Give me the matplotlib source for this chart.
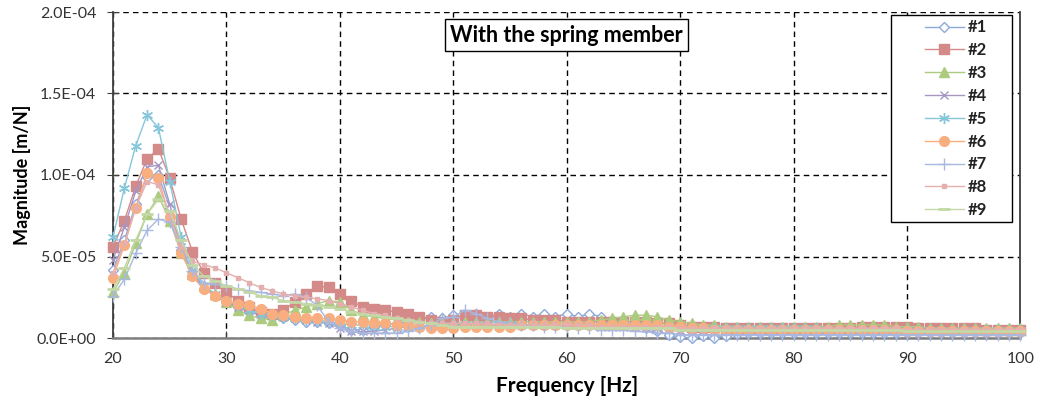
import matplotlib
matplotlib.use("Agg")
import matplotlib.pyplot as plt
from matplotlib.ticker import FuncFormatter, MultipleLocator
from matplotlib.patches import Rectangle

SCALE = 1e-5
freq = list(range(20, 101))

s1 = [4.2, 6.0, 8.2, 9.9, 10.0, 8.0, 5.4, 3.8, 3.0, 2.6,
      2.2, 1.9, 1.6, 1.4, 1.3, 1.2, 1.1, 1.0, 1.0, 0.9,
      0.8, 0.5, 0.5, 0.7, 0.8, 0.9, 1.0, 1.2, 1.3, 1.2,
      1.4, 1.3, 1.5, 1.3, 1.5, 1.3, 1.5, 1.3, 1.5, 1.3,
      1.5, 1.3, 1.5, 1.3, 1.1, 0.9, 0.8, 0.6, 0.4, 0.2,
      0.05, 0.0, 0.1, 0.0, 0.15, 0.25, 0.3, 0.3, 0.3, 0.3,
      0.3, 0.3, 0.3, 0.3, 0.3, 0.3, 0.3, 0.3, 0.3, 0.3,
      0.3, 0.3, 0.3, 0.3, 0.3, 0.3, 0.3, 0.3, 0.3, 0.3, 0.3]
s2 = [5.6, 7.2, 9.3, 11.0, 11.6, 9.8, 7.3, 5.3, 4.0, 3.4,
      2.8, 2.3, 1.9, 1.6, 1.5, 1.7, 2.2, 2.7, 3.2, 3.1,
      2.7, 2.3, 1.9, 1.8, 1.7, 1.6, 1.5, 1.3, 1.1, 1.0,
      1.1, 1.4, 1.4, 1.3, 1.3, 1.2, 1.2, 1.1, 1.1, 1.1,
      1.0, 1.0, 1.0, 1.0, 1.0, 1.0, 1.0, 1.0, 0.9, 0.9,
      0.8, 0.7, 0.7, 0.7, 0.6, 0.6, 0.6, 0.6, 0.6, 0.6,
      0.6, 0.6, 0.6, 0.6, 0.6, 0.6, 0.7, 0.7, 0.7, 0.7,
      0.7, 0.6, 0.6, 0.6, 0.6, 0.6, 0.6, 0.5, 0.5, 0.5, 0.5]
s3 = [2.8, 4.0, 5.8, 7.6, 8.7, 7.2, 5.2, 3.9, 3.2, 2.7,
      2.2, 1.7, 1.4, 1.2, 1.1, 1.4, 1.7, 1.9, 2.1, 2.3,
      2.2, 1.7, 1.4, 1.3, 1.2, 1.1, 1.0, 1.0, 0.9, 0.9,
      0.9, 1.0, 1.0, 1.0, 1.0, 1.0, 1.0, 1.0, 1.0, 1.0,
      1.0, 1.0, 1.0, 1.1, 1.2, 1.3, 1.4, 1.4, 1.3, 1.1,
      1.0, 0.9, 0.8, 0.8, 0.7, 0.7, 0.7, 0.7, 0.7, 0.7,
      0.7, 0.7, 0.7, 0.7, 0.8, 0.8, 0.8, 0.8, 0.8, 0.7,
      0.7, 0.7, 0.6, 0.6, 0.6, 0.6, 0.6, 0.6, 0.6, 0.6, 0.6]
s4 = [4.8, 6.8, 9.0, 10.5, 10.6, 8.2, 5.6, 4.0, 3.1, 2.6,
      2.2, 1.9, 1.7, 1.5, 1.4, 1.3, 1.2, 1.1, 1.0, 0.9,
      0.6, 0.4, 0.4, 0.4, 0.5, 0.6, 0.7, 0.7, 0.7, 0.8,
      0.8, 0.8, 0.8, 0.8, 0.8, 0.8, 0.8, 0.8, 0.8, 0.8,
      0.8, 0.8, 0.8, 0.7, 0.7, 0.7, 0.7, 0.6, 0.6, 0.6,
      0.5, 0.5, 0.5, 0.5, 0.5, 0.5, 0.5, 0.5, 0.5, 0.5,
      0.5, 0.5, 0.5, 0.5, 0.5, 0.5, 0.5, 0.5, 0.5, 0.5,
      0.4, 0.4, 0.4, 0.4, 0.4, 0.4, 0.4, 0.4, 0.4, 0.4, 0.4]
s5 = [6.2, 9.2, 11.8, 13.7, 12.9, 9.6, 6.2, 4.2, 3.2, 2.7,
      2.3, 2.0, 1.7, 1.5, 1.4, 1.3, 1.2, 1.1, 1.1, 1.0,
      0.9, 0.8, 0.8, 0.7, 0.7, 0.7, 0.7, 0.7, 0.7, 0.7,
      0.7, 0.8, 0.8, 0.8, 0.8, 0.8, 0.8, 0.8, 0.8, 0.8,
      0.8, 0.8, 0.8, 0.8, 0.8, 0.8, 0.8, 0.8, 0.7, 0.7,
      0.6, 0.6, 0.6, 0.6, 0.6, 0.6, 0.6, 0.6, 0.6, 0.6,
      0.6, 0.6, 0.6, 0.5, 0.5, 0.5, 0.5, 0.5, 0.5, 0.5,
      0.5, 0.5, 0.5, 0.5, 0.5, 0.5, 0.5, 0.5, 0.5, 0.5, 0.5]
s6 = [3.7, 5.7, 8.0, 10.1, 9.8, 7.4, 5.2, 3.8, 3.0, 2.6,
      2.3, 2.1, 2.0, 1.8, 1.5, 1.4, 1.3, 1.2, 1.2, 1.2,
      1.1, 1.0, 1.0, 0.9, 0.9, 0.8, 0.8, 0.7, 0.6, 0.6,
      0.6, 0.7, 0.7, 0.7, 0.7, 0.7, 0.8, 0.8, 0.8, 0.8,
      0.8, 0.8, 0.8, 0.8, 0.8, 0.8, 0.8, 0.8, 0.8, 0.7,
      0.7, 0.6, 0.6, 0.5, 0.5, 0.5, 0.5, 0.5, 0.5, 0.5,
      0.5, 0.5, 0.5, 0.5, 0.5, 0.5, 0.5, 0.5, 0.5, 0.5,
      0.4, 0.4, 0.4, 0.4, 0.4, 0.4, 0.4, 0.4, 0.4, 0.4, 0.4]
s7 = [2.6, 3.6, 5.2, 6.6, 7.3, 7.1, 5.6, 4.1, 3.4, 3.3,
      3.2, 3.0, 2.9, 2.8, 2.7, 2.6, 2.7, 2.5, 2.0, 1.0,
      0.6, 0.4, 0.3, 0.3, 0.3, 0.3, 0.4, 0.6, 0.8, 1.2,
      1.3, 1.7, 1.5, 1.2, 1.0, 0.9, 0.8, 0.8, 0.7, 0.7,
      0.7, 0.6, 0.6, 0.5, 0.5, 0.5, 0.4, 0.4, 0.3, 0.3,
      0.2, 0.2, 0.2, 0.2, 0.2, 0.2, 0.2, 0.2, 0.2, 0.2,
      0.2, 0.2, 0.2, 0.2, 0.2, 0.2, 0.2, 0.2, 0.2, 0.2,
      0.2, 0.2, 0.2, 0.2, 0.2, 0.2, 0.2, 0.2, 0.2, 0.2, 0.2]
s8 = [4.0, 5.8, 8.0, 9.6, 9.4, 7.5, 5.6, 4.7, 4.5, 4.3,
      4.0, 3.7, 3.4, 3.1, 2.9, 2.7, 2.6, 2.5, 2.4, 2.3,
      2.1, 1.9, 1.7, 1.5, 1.4, 1.2, 1.1, 1.0, 0.9, 0.9,
      0.9, 0.9, 0.9, 0.9, 0.8, 0.8, 0.8, 0.8, 0.8, 0.8,
      0.8, 0.8, 0.8, 0.7, 0.7, 0.7, 0.7, 0.7, 0.7, 0.7,
      0.6, 0.6, 0.6, 0.6, 0.6, 0.6, 0.6, 0.6, 0.6, 0.6,
      0.6, 0.6, 0.6, 0.6, 0.6, 0.6, 0.6, 0.6, 0.6, 0.6,
      0.5, 0.5, 0.5, 0.5, 0.5, 0.5, 0.5, 0.5, 0.5, 0.5, 0.5]
s9 = [3.0, 4.3, 6.0, 7.6, 8.5, 7.8, 6.0, 4.5, 3.8, 3.5,
      3.2, 3.0, 2.8, 2.6, 2.5, 2.3, 2.2, 2.1, 2.0, 1.9,
      1.8, 1.6, 1.5, 1.4, 1.3, 1.2, 1.1, 1.0, 0.9, 0.8,
      0.7, 0.7, 0.7, 0.7, 0.7, 0.7, 0.7, 0.7, 0.7, 0.7,
      0.6, 0.6, 0.6, 0.6, 0.6, 0.6, 0.6, 0.6, 0.6, 0.6,
      0.5, 0.5, 0.5, 0.5, 0.5, 0.5, 0.5, 0.5, 0.5, 0.5,
      0.5, 0.5, 0.5, 0.5, 0.5, 0.5, 0.5, 0.5, 0.5, 0.5,
      0.4, 0.4, 0.4, 0.4, 0.4, 0.4, 0.4, 0.4, 0.4, 0.4, 0.4]

labels = ["#1", "#2", "#3", "#4", "#5", "#6", "#7", "#8", "#9"]
series = [s1, s2, s3, s4, s5, s6, s7, s8, s9]
xticks = [20, 30, 40, 50, 60, 70, 80, 90, 100]

colors = ["#8EA9DB", "#D48A88", "#ADCB7E", "#A597C2", "#86C6DA",
          "#F9AE80", "#A8B8E0", "#E4AFAE", "#C3D8A6"]
styles = [
    dict(marker="D", ms=5, mfc="white", mec=colors[0], mew=1.0),
    dict(marker="s", ms=7, mfc=colors[1], mec=colors[1]),
    dict(marker="^", ms=7, mfc=colors[2], mec=colors[2]),
    dict(marker="x", ms=6, mec=colors[3], mew=1.0),
    dict(marker=(6, 2, 0), ms=8, mec=colors[4], mew=1.0),
    dict(marker="o", ms=7, mfc=colors[5], mec=colors[5]),
    dict(marker="+", ms=9, mec=colors[6], mew=1.0),
    dict(marker="s", ms=3.5, mfc=colors[7], mec=colors[7]),
    dict(marker="_", ms=8, mec=colors[8], mew=2.0),
]

plt.rcParams["font.family"] = ["Lato", "DejaVu Sans"]
fig = plt.figure(figsize=(10.4, 4.0), dpi=100)
ax = fig.add_axes([0.1087, 0.155, 0.8725, 0.815])

for lab, vals, col, st in zip(labels, series, colors, styles):
    ax.plot(freq, [v * SCALE for v in vals], color=col, lw=1.0, label=lab,
            clip_on=False, zorder=3, **st)

ax.set_xlim(20, 100)
ax.set_ylim(0, 2.0e-4)
ax.set_xticks(xticks)
ax.yaxis.set_major_locator(MultipleLocator(0.5e-4))
ax.yaxis.set_major_formatter(FuncFormatter(lambda v, p: f"{v:.1E}"))
ax.grid(True, color="black", linestyle=(0, (4, 3)), linewidth=1.0, zorder=1)
ax.set_axisbelow(True)

ax.spines["top"].set_visible(False)
ax.spines["left"].set_color("#404040")
ax.spines["left"].set_linewidth(1.3)
ax.spines["bottom"].set_color("#808080")
ax.spines["bottom"].set_linewidth(1.8)
ax.spines["right"].set_color("#404040")
ax.spines["right"].set_linewidth(1.3)

ax.tick_params(axis="x", direction="in", length=5, colors="#404040",
               labelsize=11.5, pad=10, labelcolor="#333333")
ax.tick_params(axis="y", direction="inout", length=8, colors="#404040",
               labelsize=11.5, pad=8, labelcolor="#333333")

ax.set_xlabel("Frequency [Hz]", fontsize=15, fontweight="bold", labelpad=7)
ax.set_ylabel("Magnitude [m/N]", fontsize=13, fontweight="bold", labelpad=4)

ax.text(0.5, 0.929, "With the spring member", transform=ax.transAxes,
        ha="center", va="center", fontsize=15.5, fontweight="bold",
        bbox=dict(facecolor="white", edgecolor="black", linewidth=1.0,
                  boxstyle="square,pad=0.25"), zorder=5)

# legend frame drawn as its own box, entries placed inside it
ax.add_patch(Rectangle((0.857, 0.356), 0.134, 0.635, transform=ax.transAxes,
                       facecolor="white", edgecolor="black", linewidth=1.0,
                       zorder=5, clip_on=False))
leg = ax.legend(loc="upper left", bbox_to_anchor=(0.895, 0.977),
                borderaxespad=0, borderpad=0, frameon=False,
                fontsize=12, handlelength=2.3, labelspacing=0.41,
                handletextpad=0.25)
for t in leg.get_texts():
    t.set_fontweight("bold")
    t.set_color("#222222")
leg.set_zorder(6)

fig.savefig("out.png", dpi=100)
